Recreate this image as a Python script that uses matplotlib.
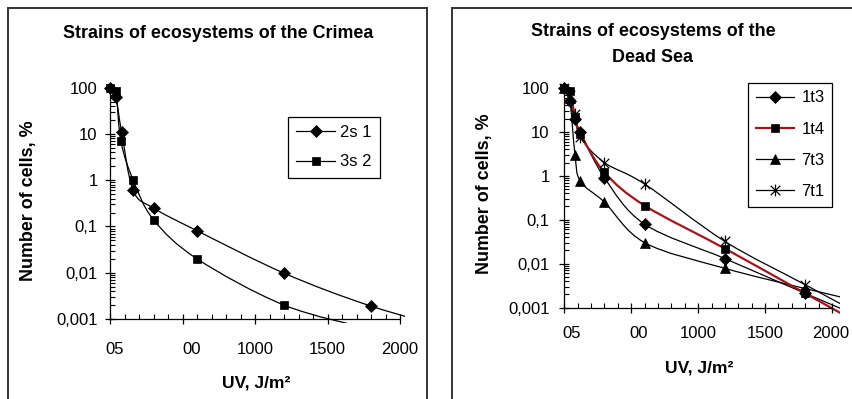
import numpy as np
import matplotlib
matplotlib.use("Agg")
import matplotlib.pyplot as plt
from matplotlib.path import Path
from matplotlib.patches import PathPatch, Rectangle
from matplotlib.lines import Line2D
from matplotlib.ticker import FixedLocator, MultipleLocator, LogLocator, NullFormatter

plt.rcParams['font.family'] = ['Liberation Sans', 'DejaVu Sans']

# ---------------- data ----------------
# Crimea (left panel); last point of each series lies outside the plot (clipped)
crimea_x_2s1 = [0, 40, 80, 160, 300, 600, 1200, 1800, 2400]
crimea_y_2s1 = [100, 63, 11, 0.6, 0.25, 0.081, 0.0098, 0.0019, 0.00056]
crimea_x_3s2 = [0, 40, 75, 160, 300, 600, 1200, 1800]
crimea_y_3s2 = [100, 85, 7, 1.0, 0.14, 0.02, 0.002, 0.0006]

# Dead Sea (right panel)
dead_x = [0, 40, 80, 120, 300, 600, 1200, 1800, 2400]
dead_y_1t3 = [100, 50, 20, 10, 0.9, 0.079, 0.013, 0.0021, 0.00035]
dead_y_1t4 = [100, 85, 22, 9, 1.2, 0.21, 0.022, 0.0021, 0.0002]
dead_y_7t3 = [100, 60, 3.0, 0.75, 0.25, 0.03, 0.0078, 0.0027, 0.001]
dead_y_7t1 = [100, 70, 25, 7.5, 2.0, 0.65, 0.032, 0.0033, 0.00034]

ytick_values = [0.001, 0.01, 0.1, 1, 10, 100]
ytick_labels = ["0,001", "0,01", "0,1", "1", "10", "100"]
xtick_values = [0, 500, 1000, 1500, 2000]
xtick_labels = ["05", "00", "1000", "1500", "2000"]

title_left = "Strains of ecosystems of the Crimea"
title_right_1 = "Strains of ecosystems of the"
title_right_2 = "Dead Sea"
ylabel = "Number of cells, %"
xlabel = "UV, J/m\u00b2"
legend_left = ["2s 1", "3s 2"]
legend_right = ["1t3", "1t4", "7t3", "7t1"]

# ---------------- layout ----------------
W, H = 852, 399
fig = plt.figure(figsize=(W / 100, H / 100), dpi=100)


def fx(px):
    return px / W


def fy(py):
    return 1 - py / H


def axes_from_px(x0, x1, ytop, ybot):
    return fig.add_axes([fx(x0), fy(ybot), (x1 - x0) / W, (ybot - ytop) / H])


axL = axes_from_px(110, 400, 87.7, 319)
axR = axes_from_px(564.3, 832, 88, 307.5)

star = Path([(-1, -1), (1, 1), (-1, 1), (1, -1), (0, -1.25), (0, 1.25)],
            [Path.MOVETO, Path.LINETO] * 3)


def setup(ax, ylabpad):
    ax.set_yscale('log')
    ax.set_xlim(0, 2000)
    ax.set_ylim(0.001, 100)
    for s in ['top', 'right']:
        ax.spines[s].set_visible(False)
    for s in ['left', 'bottom']:
        ax.spines[s].set_linewidth(0.9)
    ax.set_yticks(ytick_values)
    ax.set_yticklabels(ytick_labels)
    ax.yaxis.set_minor_locator(LogLocator(base=10, subs=np.arange(2, 10), numticks=20))
    ax.yaxis.set_minor_formatter(NullFormatter())
    ax.tick_params(axis='y', which='major', direction='inout', length=7, width=0.9,
                   labelsize=12, pad=ylabpad)
    ax.tick_params(axis='y', which='minor', direction='in', length=3.5, width=0.8)
    ax.xaxis.set_major_locator(FixedLocator(xtick_values))
    ax.xaxis.set_minor_locator(MultipleLocator(100))
    ax.set_xticklabels([])
    ax.tick_params(axis='x', which='major', direction='inout', length=7, width=0.9)
    ax.tick_params(axis='x', which='minor', direction='in', length=3.5, width=0.8)


setup(axL, 5.5)
setup(axR, 7)


def smooth_path(ax, xs, ys):
    pts = ax.transData.transform(np.column_stack([xs, ys]))
    n = len(pts)
    verts = [pts[0]]
    codes = [Path.MOVETO]
    for i in range(n - 1):
        p0 = pts[i - 1] if i > 0 else pts[i]
        p1 = pts[i]
        p2 = pts[i + 1]
        p3 = pts[i + 2] if i + 2 < n else pts[i + 1]
        c1 = p1 + (p2 - p0) / 6.0
        c2 = p2 - (p3 - p1) / 6.0
        verts += [c1, c2, p2]
        codes += [Path.CURVE4] * 3
    dv = ax.transData.inverted().transform(np.array(verts))
    return Path(dv, codes)


def draw_series(ax, xs, ys, marker, ms, color, lw, clip):
    path = smooth_path(ax, xs, ys)
    patch = PathPatch(path, facecolor='none', edgecolor=color, lw=lw,
                      transform=ax.transData, clip_on=True)
    ax.add_patch(patch)
    patch.set_clip_path(clip)
    mk = dict(marker=marker, markersize=ms, markeredgecolor='black')
    if marker is star:
        mk.update(markerfacecolor='none', markeredgewidth=0.9)
    else:
        mk.update(markerfacecolor='black', markeredgewidth=0.5)
    ln, = ax.plot(xs, ys, linestyle='none', **mk)
    ln.set_clip_path(clip)
    return Line2D([], [], color=color, lw=lw, **mk)


def clip_rect(ax, left, right, bottom, top):
    bb = ax.get_position()
    wpx = bb.width * W
    hpx = bb.height * H
    r = Rectangle((-left / wpx, -bottom / hpx), 1 + (left + right) / wpx,
                  1 + (bottom + top) / hpx, transform=ax.transAxes,
                  facecolor='none', edgecolor='none')
    return r


clipL = clip_rect(axL, 8, 5, 4, 20)
clipR = clip_rect(axR, 8, 8, 8, 20)

hL1 = draw_series(axL, crimea_x_2s1, crimea_y_2s1, 'D', 6.0, 'black', 0.9, clipL)
hL2 = draw_series(axL, crimea_x_3s2, crimea_y_3s2, 's', 6.3, 'black', 0.9, clipL)

hR1 = draw_series(axR, dead_x, dead_y_1t3, 'D', 6.0, 'black', 0.9, clipR)
hR3 = draw_series(axR, dead_x, dead_y_7t3, '^', 7.0, 'black', 0.9, clipR)
hR4 = draw_series(axR, dead_x, dead_y_7t1, star, 8.5, 'black', 0.9, clipR)
hR2 = draw_series(axR, dead_x, dead_y_1t4, 's', 6.3, '#a3141c', 1.6, clipR)

# x tick labels (custom positions as in the reference)
xlab_pos_left = [35, 560, 1000, 1500, 2000]
xlab_pos_right = [55, 555, 1000, 1500, 1990]
for ax, poss, off in [(axL, xlab_pos_left, -31), (axR, xlab_pos_right, -26)]:
    for p, t in zip(poss, xtick_labels):
        ax.annotate(t, xy=(p, 0), xycoords=('data', 'axes fraction'),
                    xytext=(0, off * 0.72), textcoords='offset points',
                    ha='center', va='center', fontsize=12, annotation_clip=False)

# titles and axis labels
fig.text(fx(218), fy(33), title_left, ha='center', va='center',
         fontsize=12.9, fontweight='bold')
fig.text(fx(653), fy(32), title_right_1, ha='center', va='center',
         fontsize=12.9, fontweight='bold')
fig.text(fx(653), fy(57), title_right_2, ha='center', va='center',
         fontsize=12.9, fontweight='bold')
fig.text(fx(28), fy(201), ylabel, rotation=90, ha='center', va='center',
         fontsize=12.9, fontweight='bold')
fig.text(fx(484), fy(194), ylabel, rotation=90, ha='center', va='center',
         fontsize=12.9, fontweight='bold')
fig.text(fx(256), fy(383), xlabel, ha='center', va='center',
         fontsize=12.6, fontweight='bold')
fig.text(fx(699), fy(368), xlabel, ha='center', va='center',
         fontsize=12.6, fontweight='bold')

# legends
legL = fig.legend([hL1, hL2], legend_left, loc='upper left',
                  bbox_to_anchor=(fx(288), fy(117)), bbox_transform=fig.transFigure,
                  borderaxespad=0, fontsize=12, handlelength=2.3, handletextpad=0.3,
                  labelspacing=0.85, borderpad=0.5, fancybox=False, framealpha=1,
                  edgecolor='black')
legL.get_frame().set_linewidth(0.9)
legR = fig.legend([hR1, hR2, hR3, hR4], legend_right, loc='upper left',
                  bbox_to_anchor=(fx(748), fy(83)), bbox_transform=fig.transFigure,
                  borderaxespad=0, fontsize=12, handlelength=2.3, handletextpad=0.45,
                  labelspacing=0.97, borderpad=0.45, fancybox=False, framealpha=1,
                  edgecolor='black')
legR.get_frame().set_linewidth(0.9)

# panel frames
fig.patches.append(Rectangle((fx(7.5), -0.1), (427 - 7.5) / W, fy(8.5) + 0.1,
                             transform=fig.transFigure, fill=False,
                             edgecolor='#333333', lw=1.4))
fig.patches.append(Rectangle((fx(452), -0.1), 0.6, fy(8.5) + 0.1,
                             transform=fig.transFigure, fill=False,
                             edgecolor='#333333', lw=1.4))

fig.savefig('out.png', dpi=100)
